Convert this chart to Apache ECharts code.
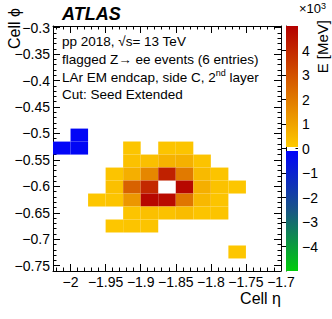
<!DOCTYPE html>
<html><head><meta charset="utf-8">
<script src="https://cdn.jsdelivr.net/npm/echarts@6/dist/echarts.min.js"></script>
<style>html,body{margin:0;padding:0;background:#fff}#c{width:332px;height:319px}</style>
</head><body><div id="c"></div>
<script>
// ---- data ----
const cellEta = [
  -1.9875,
  -2.0125, -1.9875, -1.9125, -1.8625, -1.8375,
  -1.9125, -1.8875, -1.8625, -1.8375, -1.8125,
  -1.9375, -1.9125, -1.8875, -1.8625, -1.8375, -1.8125, -1.7875,
  -1.9375, -1.9125, -1.8875, -1.8625, -1.8375, -1.8125, -1.7875, -1.7625,
  -1.9625, -1.9375, -1.9125, -1.8875, -1.8625, -1.8375, -1.8125, -1.7875,
  -1.9125, -1.8875, -1.8625, -1.8375, -1.8125, -1.7875,
  -1.9375, -1.9125, -1.8875,
  -1.7625
];
const cellPhi = [
  -0.50315,
  -0.52769, -0.52769, -0.52769, -0.52769, -0.52769,
  -0.55223, -0.55223, -0.55223, -0.55223, -0.55223,
  -0.57678, -0.57678, -0.57678, -0.57678, -0.57678, -0.57678, -0.57678,
  -0.60132, -0.60132, -0.60132, -0.60132, -0.60132, -0.60132, -0.60132, -0.60132,
  -0.62587, -0.62587, -0.62587, -0.62587, -0.62587, -0.62587, -0.62587, -0.62587,
  -0.65041, -0.65041, -0.65041, -0.65041, -0.65041, -0.65041,
  -0.67496, -0.67496, -0.67496,
  -0.72405
];
const cellE = [
  -180,
  -150, -200, 180, 200, 190,
  260, 320, 620, 650, 230,
  200, 700, 1700, 4200, 2000, 450, 200,
  300, 2600, 4000, 5600, 4800, 700, 250, 150,
  150, 200, 1300, 4800, 4700, 2100, 500, 200,
  200, 300, 250, 400, 200, 200,
  150, 200, 200,
  150
];
const xTicks = [-2, -1.95, -1.9, -1.85, -1.8, -1.75, -1.7];
const yTicks = [-0.75, -0.7, -0.65, -0.6, -0.55, -0.5, -0.45, -0.4, -0.35, -0.3];
const zTicks = [-4000, -3000, -2000, -1000, 0, 1000, 2000, 3000, 4000];
const dEta = 0.025, dPhi = 2 * Math.PI / 256;
const xRange = [-2.025, -1.7], yRange = [-0.76, -0.297], zRange = [-5000, 5000];

// ---- style ----
const FONT = '"Liberation Sans", Arial, Helvetica, sans-serif';
const posLo = [255, 204, 0], posHi = [180, 0, 0];
const negStops = [[0, [0, 0, 255]], [0.5, [25, 85, 135]], [1, [0, 205, 10]]];
function lerp(a, b, t) { return a.map((v, i) => Math.round(v + (b[i] - v) * t)); }
function rgb(c) { return 'rgb(' + c.join(',') + ')'; }
function palette(e) {
  if (e >= 0) return rgb(lerp(posLo, posHi, Math.min(1, e / zRange[1])));
  const t = Math.min(1, e / zRange[0]);
  for (let i = 1; i < negStops.length; i++) {
    if (t <= negStops[i][0]) {
      const a = negStops[i - 1], b = negStops[i];
      return rgb(lerp(a[1], b[1], (t - a[0]) / (b[0] - a[0])));
    }
  }
  return rgb(negStops[negStops.length - 1][1]);
}
const minus = v => (v < 0 ? '\u2212' : '') + String(+Math.abs(v).toFixed(3));
const xMinor = [], yMinor = [], zMinor = [];
for (let i = -202; i <= -170; i++) xMinor.push(i / 100);
for (let i = -75; i <= -30; i++) yMinor.push(i / 100);
for (let i = -24; i <= 24; i++) zMinor.push(i * 200);

const cells = cellE.map((e, i) => [cellEta[i], cellPhi[i], e]);

function mkX(pos, major, labels, line) {
  return {
    type: 'value', gridIndex: 0, min: xRange[0], max: xRange[1], position: pos,
    axisLine: { show: line, onZero: false, lineStyle: { color: '#000', width: 1 } },
    axisTick: { show: true, inside: true, length: major ? 7 : 3.5, customValues: major ? xTicks : xMinor, lineStyle: { color: '#000' } },
    axisLabel: { show: labels, customValues: xTicks, formatter: minus, fontSize: 14, color: '#000', fontFamily: FONT, margin: 4 },
    splitLine: { show: false }
  };
}
function mkY(pos, major, labels, line) {
  return {
    type: 'value', gridIndex: 0, min: yRange[0], max: yRange[1], position: pos,
    axisLine: { show: line, onZero: false, lineStyle: { color: '#000', width: 1 } },
    axisTick: { show: true, inside: true, length: major ? 7 : 3.5, customValues: major ? yTicks : yMinor, lineStyle: { color: '#000' } },
    axisLabel: { show: labels, customValues: yTicks, formatter: minus, fontSize: 14, color: '#000', fontFamily: FONT, margin: 3 },
    splitLine: { show: false }
  };
}

const chart = echarts.init(document.getElementById('c'), null, { renderer: 'svg' });
chart.setOption({
  animation: false,
  backgroundColor: '#fff',
  grid: [
    { left: 53, top: 26, width: 228, height: 245 },
    { left: 286, top: 26, width: 12, height: 245 }
  ],
  xAxis: [
    mkX('bottom', true, true, true), mkX('bottom', false, false, false),
    mkX('top', true, false, true), mkX('top', false, false, false),
    { type: 'value', gridIndex: 1, min: 0, max: 1, show: false }
  ],
  yAxis: [
    mkY('left', true, true, true), mkY('left', false, false, false),
    mkY('right', true, false, true), mkY('right', false, false, false),
    {
      type: 'value', gridIndex: 1, min: zRange[0], max: zRange[1], position: 'right',
      axisLine: { show: true, lineStyle: { color: '#000', width: 1 } },
      axisTick: { show: true, inside: true, length: 5, customValues: zTicks, lineStyle: { color: '#000' } },
      axisLabel: { show: true, customValues: zTicks, formatter: v => minus(v / 1000), fontSize: 14, color: '#000', fontFamily: FONT, margin: 4 },
      splitLine: { show: false }
    },
    {
      type: 'value', gridIndex: 1, min: zRange[0], max: zRange[1], position: 'right',
      axisLine: { show: false },
      axisTick: { show: true, inside: true, length: 2.5, customValues: zMinor, lineStyle: { color: '#000' } },
      axisLabel: { show: false }, splitLine: { show: false }
    }
  ],
  series: [
    {
      type: 'custom', xAxisIndex: 0, yAxisIndex: 0, clip: true,
      data: cells,
      renderItem: function (params, api) {
        const e = api.value(2);
        if (e > zRange[1]) return null;
        const p0 = api.coord([api.value(0) - dEta / 2, api.value(1) + dPhi / 2]);
        const p1 = api.coord([api.value(0) + dEta / 2, api.value(1) - dPhi / 2]);
        return { type: 'rect', shape: { x: p0[0], y: p0[1], width: p1[0] - p0[0], height: p1[1] - p0[1] },
                 style: { fill: palette(e), stroke: null } };
      }
    },
    {
      type: 'custom', xAxisIndex: 4, yAxisIndex: 4,
      data: [[60, zRange[1], 1], [zRange[0], -100, -1]],
      renderItem: function (params, api) {
        const lo = api.value(0), hi = api.value(1), sgn = api.value(2);
        const p0 = api.coord([0, hi]), p1 = api.coord([1, lo]);
        const stops = [];
        for (let k = 0; k <= 10; k++) {
          const v = hi + (lo - hi) * k / 10;
          stops.push({ offset: k / 10, color: palette(sgn > 0 ? v : Math.min(v, -0.0001)) });
        }
        return { type: 'rect', shape: { x: p0[0], y: p0[1], width: p1[0] - p0[0], height: p1[1] - p0[1] },
                 style: { fill: { type: 'linear', x: 0, y: 0, x2: 0, y2: 1, colorStops: stops } } };
      }
    }
  ],
  graphic: [
    { type: 'text', left: 62, top: 5, style: { text: 'ATLAS', font: 'italic bold 18px ' + FONT, fill: '#000' } },
    { type: 'text', x: 62, y: 41.5, style: { text: 'pp 2018, \u221As= 13 TeV', font: '13.5px ' + FONT, fill: '#000', verticalAlign: 'middle' } },
    { type: 'text', x: 62, y: 59, style: { text: 'flagged Z\u2192 ee events (6 entries)', font: '13.5px ' + FONT, fill: '#000', verticalAlign: 'middle' } },
    { type: 'text', x: 62, y: 76.5, style: { text: '{a|LAr EM endcap, side C, 2}{s|nd}{a| layer}', fill: '#000', verticalAlign: 'middle',
        rich: { a: { font: '13.5px ' + FONT, fill: '#000', lineHeight: 16, verticalAlign: 'bottom' }, s: { font: '9px ' + FONT, fill: '#000', lineHeight: 16, verticalAlign: 'top' } } } },
    { type: 'text', x: 62, y: 94, style: { text: 'Cut: Seed Extended', font: '13.5px ' + FONT, fill: '#000', verticalAlign: 'middle' } },
    { type: 'text', x: 14, y: 8, rotation: Math.PI / 2, style: { text: 'Cell \u03D5', font: '16px ' + FONT, fill: '#000', align: 'right', verticalAlign: 'middle' } },
    { type: 'text', x: 281, y: 298, style: { text: 'Cell \u03B7', font: '16px ' + FONT, fill: '#000', align: 'right', verticalAlign: 'middle' } },
    { type: 'text', x: 322, y: 20, rotation: Math.PI / 2, style: { text: 'E [MeV]', font: '15px ' + FONT, fill: '#000', align: 'right', verticalAlign: 'middle' } },
    { type: 'text', x: 299, y: 8, style: { text: '{a|\u00D710}{s|3}', verticalAlign: 'middle',
        rich: { a: { font: '13px ' + FONT, fill: '#000', lineHeight: 14, verticalAlign: 'bottom' }, s: { font: '9px ' + FONT, fill: '#000', lineHeight: 14, verticalAlign: 'top' } } } }
  ]
});
</script></body></html>
